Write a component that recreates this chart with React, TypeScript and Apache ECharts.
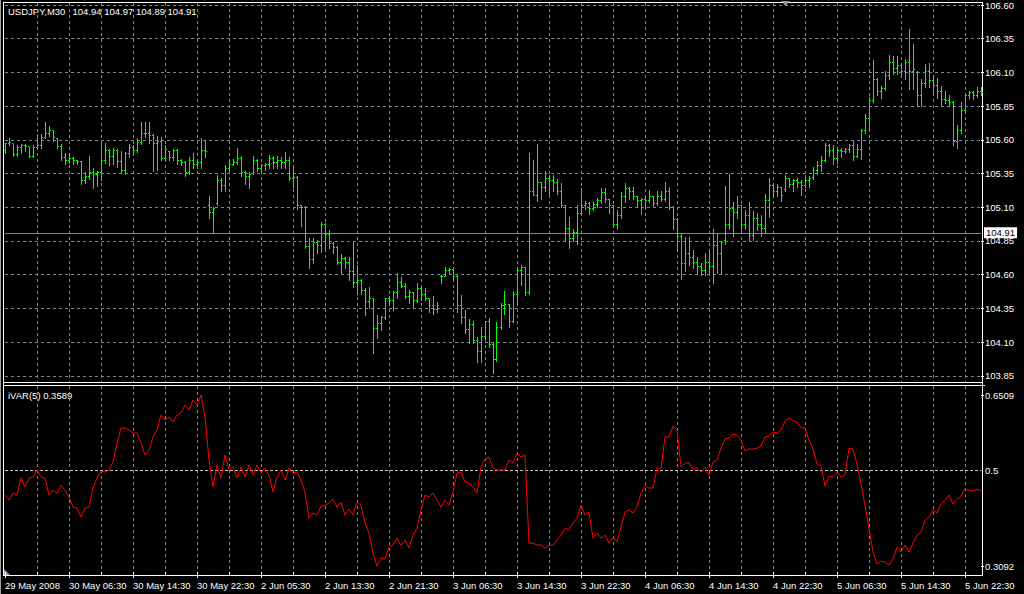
import React, { useEffect, useRef } from "react";
import * as echarts from "echarts";

// ---- data (USDJPY M30) ----
const symbolTitle = "USDJPY,M30";
const headerValues = ["104.94", "104.97", "104.89", "104.91"];
const lastPrice = 104.91;
const indicatorTitle = "iVAR(5) 0.3589";

const opens = [
  105.52, 105.57, 105.57, 105.49, 105.54, 105.56, 105.55, 105.48, 105.54, 105.56,
  105.62, 105.65, 105.67, 105.61, 105.55, 105.47, 105.45, 105.46, 105.45, 105.44,
  105.30, 105.33, 105.36, 105.34, 105.36, 105.45, 105.52, 105.48, 105.52, 105.44,
  105.37, 105.50, 105.54, 105.52, 105.58, 105.65, 105.65, 105.63, 105.57, 105.59,
  105.46, 105.51, 105.47, 105.52, 105.45, 105.43, 105.36, 105.45, 105.42, 105.43,
  105.52, 105.11, 105.06, 105.13, 105.30, 105.26, 105.39, 105.42, 105.43, 105.46,
  105.36, 105.33, 105.35, 105.45, 105.39, 105.41, 105.42, 105.46, 105.43, 105.45,
  105.43, 105.45, 105.31, 105.32, 105.11, 105.10, 104.81, 104.71, 104.84, 104.82,
  104.97, 104.90, 104.83, 104.80, 104.69, 104.72, 104.69, 104.62, 104.54, 104.56,
  104.48, 104.40, 104.42, 104.20, 104.24, 104.28, 104.42, 104.41, 104.47, 104.54,
  104.51, 104.44, 104.47, 104.41, 104.50, 104.45, 104.42, 104.37, 104.34, 104.59,
  104.59, 104.63, 104.64, 104.59, 104.37, 104.28, 104.19, 104.23, 104.11, 104.03,
  104.14, 104.25, 104.08, 103.97, 104.21, 104.37, 104.38, 104.25, 104.45, 104.63,
  104.65, 104.47, 105.22, 105.19, 105.28, 105.25, 105.31, 105.30, 105.28, 105.22,
  105.11, 104.94, 104.87, 104.91, 105.05, 105.11, 105.13, 105.09, 105.12, 105.15,
  105.21, 105.16, 105.11, 104.97, 105.04, 105.18, 105.24, 105.22, 105.18, 105.15,
  105.16, 105.15, 105.18, 105.13, 105.18, 105.16, 105.22, 105.10, 105.01, 104.88,
  104.68, 104.76, 104.73, 104.69, 104.66, 104.63, 104.69, 104.66, 104.82, 104.76,
  104.85, 104.97, 105.09, 105.06, 105.11, 104.97, 105.04, 104.89, 105.02, 104.97,
  104.94, 105.15, 105.26, 105.22, 105.25, 105.23, 105.31, 105.27, 105.30, 105.28,
  105.26, 105.30, 105.32, 105.37, 105.41, 105.45, 105.56, 105.52, 105.46, 105.52,
  105.51, 105.53, 105.56, 105.48, 105.53, 105.67, 105.76, 105.89, 106.05, 105.96,
  105.98, 106.08, 106.17, 106.13, 106.15, 106.11, 106.17, 106.11, 106.10, 105.93,
  106.02, 106.11, 106.04, 106.00, 105.96, 105.90, 105.89, 105.88, 105.59, 105.67,
  105.82, 105.93, 105.95, 105.93, 105.96,
];

const highs = [
  105.58, 105.61, 105.57, 105.56, 105.57, 105.57, 105.55, 105.56, 105.64, 105.64,
  105.73, 105.70, 105.67, 105.61, 105.57, 105.50, 105.50, 105.47, 105.45, 105.44,
  105.36, 105.48, 105.39, 105.37, 105.58, 105.58, 105.53, 105.54, 105.53, 105.52,
  105.51, 105.57, 105.56, 105.61, 105.73, 105.73, 105.73, 105.64, 105.63, 105.62,
  105.56, 105.52, 105.53, 105.53, 105.46, 105.44, 105.47, 105.50, 105.45, 105.61,
  105.59, 105.18, 105.10, 105.34, 105.32, 105.41, 105.45, 105.46, 105.54, 105.48,
  105.37, 105.36, 105.48, 105.46, 105.42, 105.43, 105.49, 105.48, 105.48, 105.47,
  105.51, 105.47, 105.41, 105.33, 105.12, 105.11, 104.87, 104.87, 104.86, 104.99,
  104.98, 104.93, 104.84, 104.81, 104.75, 104.73, 104.73, 104.85, 104.67, 104.57,
  104.50, 104.51, 104.43, 104.30, 104.29, 104.43, 104.44, 104.48, 104.61, 104.58,
  104.54, 104.49, 104.47, 104.54, 104.51, 104.50, 104.43, 104.44, 104.40, 104.60,
  104.66, 104.65, 104.65, 104.60, 104.45, 104.34, 104.27, 104.26, 104.14, 104.21,
  104.26, 104.28, 104.09, 104.25, 104.39, 104.48, 104.38, 104.48, 104.66, 104.67,
  104.66, 105.50, 105.45, 105.57, 105.29, 105.37, 105.34, 105.34, 105.31, 105.28,
  105.12, 105.03, 104.94, 105.12, 105.24, 105.15, 105.14, 105.14, 105.17, 105.24,
  105.24, 105.16, 105.12, 105.08, 105.21, 105.28, 105.25, 105.25, 105.18, 105.17,
  105.17, 105.23, 105.18, 105.22, 105.22, 105.29, 105.25, 105.11, 105.02, 104.91,
  104.88, 104.88, 104.78, 104.73, 104.69, 104.76, 104.78, 104.94, 104.91, 104.85,
  105.26, 105.35, 105.14, 105.18, 105.12, 105.08, 105.14, 105.07, 105.06, 105.04,
  105.20, 105.32, 105.28, 105.27, 105.25, 105.34, 105.32, 105.31, 105.32, 105.30,
  105.34, 105.33, 105.40, 105.44, 105.48, 105.58, 105.57, 105.56, 105.55, 105.54,
  105.54, 105.57, 105.59, 105.57, 105.68, 105.79, 105.92, 106.19, 106.06, 106.00,
  106.11, 106.23, 106.22, 106.22, 106.16, 106.20, 106.42, 106.31, 106.11, 106.05,
  106.16, 106.17, 106.08, 106.06, 106.00, 105.96, 105.93, 105.89, 105.71, 105.88,
  105.95, 105.96, 105.96, 105.99, 105.99,
];

const lows = [
  105.50, 105.56, 105.48, 105.48, 105.50, 105.52, 105.47, 105.47, 105.53, 105.54,
  105.61, 105.63, 105.59, 105.54, 105.45, 105.42, 105.43, 105.42, 105.42, 105.27,
  105.28, 105.31, 105.24, 105.26, 105.30, 105.43, 105.41, 105.42, 105.40, 105.36,
  105.35, 105.47, 105.50, 105.51, 105.57, 105.62, 105.58, 105.37, 105.38, 105.45,
  105.44, 105.45, 105.45, 105.42, 105.41, 105.33, 105.35, 105.39, 105.39, 105.39,
  105.47, 105.02, 104.91, 105.12, 105.22, 105.22, 105.37, 105.41, 105.42, 105.33,
  105.27, 105.24, 105.35, 105.37, 105.37, 105.38, 105.39, 105.39, 105.39, 105.39,
  105.39, 105.30, 105.25, 105.09, 104.96, 104.80, 104.65, 104.69, 104.76, 104.77,
  104.80, 104.80, 104.76, 104.68, 104.61, 104.65, 104.56, 104.51, 104.46, 104.46,
  104.30, 104.35, 104.02, 104.13, 104.19, 104.27, 104.38, 104.34, 104.43, 104.51,
  104.43, 104.39, 104.35, 104.40, 104.41, 104.41, 104.32, 104.31, 104.32, 104.54,
  104.59, 104.61, 104.57, 104.32, 104.24, 104.17, 104.09, 104.09, 103.95, 103.95,
  104.13, 104.06, 103.87, 103.96, 104.20, 104.31, 104.21, 104.25, 104.38, 104.52,
  104.45, 104.46, 105.19, 105.15, 105.16, 105.22, 105.20, 105.22, 105.20, 105.10,
  104.85, 104.80, 104.85, 104.83, 105.04, 105.09, 105.05, 105.08, 105.10, 105.13,
  105.14, 105.06, 104.95, 104.94, 105.02, 105.14, 105.16, 105.16, 105.10, 105.05,
  105.10, 105.14, 105.11, 105.12, 105.15, 105.15, 105.09, 104.94, 104.78, 104.57,
  104.63, 104.67, 104.65, 104.61, 104.60, 104.60, 104.61, 104.54, 104.61, 104.61,
  104.83, 104.94, 104.89, 105.02, 104.91, 104.94, 104.86, 104.86, 104.93, 104.89,
  104.91, 105.03, 105.18, 105.18, 105.15, 105.22, 105.25, 105.22, 105.25, 105.19,
  105.25, 105.25, 105.31, 105.35, 105.37, 105.44, 105.48, 105.42, 105.43, 105.47,
  105.50, 105.51, 105.45, 105.47, 105.46, 105.65, 105.68, 105.88, 105.93, 105.91,
  105.97, 106.05, 106.09, 106.09, 106.09, 106.05, 105.98, 105.98, 105.85, 105.85,
  105.99, 105.99, 105.95, 105.91, 105.85, 105.87, 105.85, 105.56, 105.54, 105.65,
  105.81, 105.91, 105.90, 105.92, 105.93,
];

const closes = [
  105.57, 105.58, 105.49, 105.54, 105.56, 105.55, 105.48, 105.54, 105.56, 105.62,
  105.65, 105.67, 105.62, 105.55, 105.47, 105.45, 105.46, 105.45, 105.44, 105.30,
  105.33, 105.36, 105.34, 105.36, 105.45, 105.52, 105.48, 105.52, 105.44, 105.37,
  105.50, 105.54, 105.52, 105.58, 105.65, 105.65, 105.63, 105.57, 105.59, 105.46,
  105.53, 105.47, 105.52, 105.45, 105.43, 105.36, 105.45, 105.42, 105.43, 105.52,
  105.51, 105.06, 105.09, 105.30, 105.26, 105.39, 105.42, 105.43, 105.46, 105.36,
  105.33, 105.34, 105.45, 105.39, 105.41, 105.42, 105.46, 105.43, 105.45, 105.43,
  105.45, 105.31, 105.32, 105.11, 105.10, 104.81, 104.71, 104.84, 104.82, 104.97,
  104.90, 104.83, 104.80, 104.69, 104.72, 104.69, 104.62, 104.54, 104.56, 104.48,
  104.40, 104.42, 104.20, 104.24, 104.28, 104.42, 104.41, 104.47, 104.54, 104.51,
  104.44, 104.47, 104.41, 104.50, 104.45, 104.42, 104.37, 104.34, 104.37, 104.59,
  104.63, 104.64, 104.59, 104.37, 104.28, 104.19, 104.23, 104.11, 104.03, 104.14,
  104.25, 104.08, 103.97, 104.21, 104.37, 104.38, 104.25, 104.45, 104.63, 104.65,
  104.47, 105.22, 105.19, 105.28, 105.25, 105.31, 105.30, 105.28, 105.22, 105.11,
  104.94, 104.87, 104.91, 105.05, 105.11, 105.13, 105.09, 105.12, 105.15, 105.21,
  105.16, 105.11, 104.97, 105.04, 105.18, 105.24, 105.22, 105.18, 105.15, 105.16,
  105.15, 105.18, 105.13, 105.18, 105.16, 105.22, 105.10, 105.01, 104.88, 104.68,
  104.76, 104.73, 104.69, 104.66, 104.63, 104.69, 104.66, 104.82, 104.76, 104.84,
  104.97, 105.09, 105.06, 105.11, 104.97, 105.04, 104.89, 105.02, 104.97, 104.94,
  105.15, 105.26, 105.22, 105.25, 105.19, 105.31, 105.27, 105.30, 105.28, 105.26,
  105.30, 105.31, 105.37, 105.41, 105.45, 105.56, 105.52, 105.46, 105.52, 105.51,
  105.53, 105.56, 105.48, 105.53, 105.67, 105.76, 105.89, 106.05, 105.96, 105.98,
  106.08, 106.17, 106.13, 106.15, 106.11, 106.17, 106.11, 106.12, 105.93, 106.02,
  106.11, 106.04, 106.00, 105.96, 105.90, 105.89, 105.88, 105.59, 105.67, 105.82,
  105.93, 105.95, 105.93, 105.96, 105.95,
];

const ivar = [
  0.4509, 0.4409, 0.4549, 0.4509, 0.4849, 0.4669, 0.4849, 0.4869, 0.5009, 0.4869,
  0.4849, 0.4509, 0.4609, 0.4549, 0.4709, 0.4609, 0.4469, 0.4269, 0.4249, 0.4069,
  0.4249, 0.4269, 0.4649, 0.4849, 0.4989, 0.4969, 0.5009, 0.5169, 0.5549, 0.5849,
  0.5849, 0.5809, 0.5749, 0.5749, 0.5549, 0.5309, 0.5409, 0.5669, 0.5809, 0.6109,
  0.6009, 0.6069, 0.5969, 0.6109, 0.6149, 0.6309, 0.6209, 0.6409, 0.6309, 0.6509,
  0.6069, 0.5209, 0.4669, 0.5109, 0.4849, 0.5309, 0.5009, 0.5069, 0.4849, 0.5069,
  0.4869, 0.5109, 0.4909, 0.5109, 0.4949, 0.5049, 0.4909, 0.4569, 0.4869, 0.5009,
  0.4809, 0.5049, 0.4949, 0.4969, 0.4809, 0.4569, 0.4049, 0.4149, 0.4109, 0.4289,
  0.4309, 0.4349, 0.4429, 0.4269, 0.4369, 0.4109, 0.4229, 0.4109, 0.4369, 0.4309,
  0.3949, 0.3749, 0.3349, 0.3092, 0.3249, 0.3229, 0.3469, 0.3509, 0.3649, 0.3509,
  0.3609, 0.3449, 0.3709, 0.3849, 0.4209, 0.4509, 0.4469, 0.4549, 0.4409, 0.4269,
  0.4409, 0.4309, 0.4569, 0.4949, 0.4969, 0.4769, 0.4749, 0.4669, 0.4549, 0.5069,
  0.5229, 0.5269, 0.5049, 0.5009, 0.5009, 0.5009, 0.5209, 0.5149, 0.5349, 0.5269,
  0.5309, 0.3549, 0.3549, 0.3509, 0.3509, 0.3449, 0.3509, 0.3509, 0.3609, 0.3709,
  0.3849, 0.3809, 0.3949, 0.4049, 0.4309, 0.4109, 0.4169, 0.3649, 0.3749, 0.3649,
  0.3709, 0.3549, 0.3669, 0.3569, 0.3869, 0.4169, 0.4209, 0.4149, 0.4269, 0.4549,
  0.4689, 0.4649, 0.4649, 0.5049, 0.5049, 0.5669, 0.5669, 0.5889, 0.5809, 0.5069,
  0.5149, 0.5149, 0.5029, 0.5049, 0.4969, 0.5069, 0.4909, 0.5169, 0.5209, 0.5449,
  0.5629, 0.5649, 0.5729, 0.5709, 0.5609, 0.5389, 0.5429, 0.5429, 0.5449, 0.5489,
  0.5669, 0.5689, 0.5769, 0.5749, 0.5809, 0.5989, 0.6049, 0.5989, 0.5969, 0.5849,
  0.5849, 0.5609, 0.5429, 0.5129, 0.5089, 0.4689, 0.4889, 0.4869, 0.4969, 0.4869,
  0.4909, 0.5449, 0.5429, 0.5129, 0.4729, 0.4289, 0.3849, 0.3369, 0.3129, 0.3189,
  0.3169, 0.3109, 0.3229, 0.3469, 0.3369, 0.3509, 0.3369, 0.3549, 0.3709, 0.3769,
  0.4009, 0.4069, 0.4209, 0.4149, 0.4329, 0.4409, 0.4509, 0.4329, 0.4429, 0.4489,
  0.4629, 0.4609, 0.4589, 0.4629, 0.4589,
];

const ivarMin = 0.3092;
const ivarMax = 0.6509;
const ivarLevel = 0.5;

const priceMin = 103.85;
const priceMax = 106.6;
const priceStep = 0.25;

const timeLabels = [
  "29 May 2008", "30 May 06:30", "30 May 14:30", "30 May 22:30",
  "2 Jun 05:30", "2 Jun 13:30", "2 Jun 21:30", "3 Jun 06:30",
  "3 Jun 14:30", "3 Jun 22:30", "4 Jun 06:30", "4 Jun 14:30",
  "4 Jun 22:30", "5 Jun 06:30", "5 Jun 14:30", "5 Jun 22:30",
];
const barsPerLabel = 16;
const barsPerGrid = 8;

// ---- styling ----
const FONT = "Liberation Sans";
const FS = 9.5;
const GRID_COLOR = "#778899";
const BAR_COLOR = "#00ff00";
const LINE_COLOR = "#ff0000";
const DASH = [3, 3];

export default function App() {
  const ref = useRef<HTMLDivElement>(null);

  useEffect(() => {
    if (!ref.current) return;
    const chart = echarts.init(ref.current, undefined, { renderer: "svg" });
    const cats = opens.map((_, i) => String(i));
    const ohlc = opens.map((o, i) => [i, o, highs[i], lows[i], closes[i]]);

    const snap = (v: number) => Math.round(v) + 0.5;

    const renderBar = (params: any, api: any) => {
      const i = api.value(0);
      const po = api.coord([i, api.value(1)]);
      const ph = api.coord([i, api.value(2)]);
      const pl = api.coord([i, api.value(3)]);
      const pc = api.coord([i, api.value(4)]);
      const x = snap(po[0] - 0.5);
      const st = { stroke: BAR_COLOR, lineWidth: 1 };
      const yo = snap(po[1] - 0.5);
      const yc = snap(pc[1] - 0.5);
      return {
        type: "group",
        children: [
          { type: "line", shape: { x1: x, y1: Math.round(ph[1]), x2: x, y2: Math.round(pl[1]) + 1 }, style: st },
          { type: "line", shape: { x1: x - 1.5, y1: yo, x2: x, y2: yo }, style: st },
          { type: "line", shape: { x1: x, y1: yc, x2: x + 1.5, y2: yc }, style: st },
        ],
      };
    };

    const splitV = {
      show: true,
      interval: (i: number) => i > 0 && i % barsPerGrid === 0,
      lineStyle: { color: GRID_COLOR, type: DASH, width: 1 },
    };
    const txt = { color: "#ffffff", fontSize: FS, fontFamily: FONT };

    const option: any = {
      animation: false,
      backgroundColor: "#000000",
      grid: [
        { left: 5, right: 43, top: 4, bottom: 594 - 375.8 },
        { left: 5, right: 43, top: 3, bottom: 594 - 382 },
        { left: 5, right: 43, top: 395, bottom: 594 - 566 },
        { left: 5, right: 43, top: 386, bottom: 19 },
      ],
      xAxis: [
        { gridIndex: 0, type: "category", data: cats, boundaryGap: false, show: false },
        {
          gridIndex: 1, type: "category", data: cats, boundaryGap: false,
          axisLine: { show: false }, axisTick: { show: false }, axisLabel: { show: false },
          splitLine: splitV,
        },
        { gridIndex: 2, type: "category", data: cats, boundaryGap: false, show: false },
        {
          gridIndex: 3, type: "category", data: cats, boundaryGap: false, position: "bottom",
          axisLine: { show: false },
          axisTick: {
            show: true, inside: true, length: 3,
            interval: (i: number) => i % barsPerGrid === 0,
            lineStyle: { color: "#ffffff" },
          },
          axisLabel: {
            ...txt,
            show: true,
            margin: 5,
            align: "left",
            interval: (i: number) => i % barsPerLabel === 0,
            formatter: (v: string) => {
              const i = Number(v);
              return i % barsPerLabel === 0 ? timeLabels[i / barsPerLabel] ?? "" : "";
            },
          },
          splitLine: splitV,
        },
        {
          gridIndex: 3, type: "category", data: cats, boundaryGap: false, position: "bottom",
          axisLine: { show: false },
          axisTick: {
            show: true, inside: false, length: 3,
            interval: (i: number) => i % barsPerLabel === 0,
            lineStyle: { color: "#ffffff" },
          },
          axisLabel: { show: false },
          splitLine: { show: false },
        },
      ],
      yAxis: [
        {
          gridIndex: 0, type: "value", position: "right",
          min: priceMin, max: priceMax, interval: priceStep,
          axisLine: { show: false },
          axisTick: { show: true, length: 3, lineStyle: { color: "#ffffff" } },
          axisLabel: { ...txt, margin: 4, formatter: (v: number) => v.toFixed(2) },
          splitLine: { show: true, lineStyle: { color: GRID_COLOR, type: DASH, width: 1 } },
        },
        { gridIndex: 1, type: "value", show: false, min: 0, max: 1 },
        {
          gridIndex: 2, type: "value", position: "right",
          min: ivarMin, max: ivarMax, interval: ivarMax - ivarMin,
          axisLine: { show: false },
          axisTick: { show: true, length: 3, lineStyle: { color: "#ffffff" } },
          axisLabel: { ...txt, margin: 4, formatter: (v: number) => v.toFixed(4) },
          splitLine: { show: false },
        },
        { gridIndex: 3, type: "value", show: false, min: 0, max: 1 },
      ],
      series: [
        {
          type: "custom",
          name: "USDJPY",
          xAxisIndex: 0,
          yAxisIndex: 0,
          clip: false,
          data: ohlc,
          encode: { x: 0, y: [1, 2, 3, 4] },
          renderItem: renderBar,
          z: 5,
          markLine: {
            silent: true,
            symbol: "none",
            animation: false,
            data: [{ yAxis: lastPrice }],
            lineStyle: { color: GRID_COLOR, type: "solid", width: 1 },
            label: {
              show: true,
              position: "end",
              distance: 3,
              formatter: lastPrice.toFixed(2),
              color: "#000000",
              backgroundColor: "#ffffff",
              padding: [1, 2, 0, 2],
              fontSize: FS,
              fontFamily: FONT,
            },
            emphasis: { disabled: true },
          },
        },
        {
          type: "line",
          name: "iVAR",
          xAxisIndex: 2,
          yAxisIndex: 2,
          data: ivar,
          showSymbol: false,
          symbol: "none",
          lineStyle: { color: LINE_COLOR, width: 1 },
          z: 5,
          markLine: {
            silent: true,
            symbol: "none",
            animation: false,
            data: [{ yAxis: ivarLevel }],
            lineStyle: { color: "#c8c8c8", type: [3, 2], width: 1 },
            label: {
              show: true,
              position: "end",
              distance: 4,
              formatter: String(ivarLevel),
              ...txt,
            },
            emphasis: { disabled: true },
          },
        },
      ],
      graphic: [
        { type: "line", shape: { x1: 0.5, y1: 0, x2: 0.5, y2: 594 }, style: { stroke: "#a0a0a0", lineWidth: 1 } },
        { type: "line", shape: { x1: 3.5, y1: 2, x2: 3.5, y2: 576 }, style: { stroke: "#ffffff", lineWidth: 1 } },
        { type: "line", shape: { x1: 982.5, y1: 2, x2: 982.5, y2: 576 }, style: { stroke: "#ffffff", lineWidth: 1 } },
        { type: "line", shape: { x1: 3, y1: 2.5, x2: 983, y2: 2.5 }, style: { stroke: "#ffffff", lineWidth: 1 } },
        { type: "line", shape: { x1: 3, y1: 382.5, x2: 983, y2: 382.5 }, style: { stroke: "#ffffff", lineWidth: 1 } },
        { type: "line", shape: { x1: 3, y1: 385.5, x2: 985, y2: 385.5 }, style: { stroke: "#ffffff", lineWidth: 1 } },
        { type: "line", shape: { x1: 3, y1: 575.5, x2: 983, y2: 575.5 }, style: { stroke: "#ffffff", lineWidth: 1 } },
        { type: "polygon", shape: { points: [[781, 1], [790, 1], [785.5, 6]] }, style: { fill: "#8a9bb0" } },
        { type: "polygon", shape: { points: [[4, 569], [4, 575], [10, 575]] }, style: { fill: "#8a9bb0" } },
        {
          type: "text", x: 8, y: 11,
          style: { text: symbolTitle, fill: "#ffffff", fontSize: FS, fontFamily: FONT, verticalAlign: "middle" },
        },
        {
          type: "text", x: 72.5, y: 11,
          style: { text: headerValues.join(" "), fill: "#ffffff", fontSize: FS, fontFamily: FONT, verticalAlign: "middle" },
        },
        {
          type: "text", x: 8, y: 395,
          style: { text: indicatorTitle, fill: "#ffffff", fontSize: FS, fontFamily: FONT, verticalAlign: "middle" },
        },
      ],
    };

    chart.setOption(option);
    return () => chart.dispose();
  }, []);

  return (
    <div
      ref={ref}
      style={{ position: "absolute", left: 0, top: 0, width: 1024, height: 594, background: "#000" }}
    />
  );
}
